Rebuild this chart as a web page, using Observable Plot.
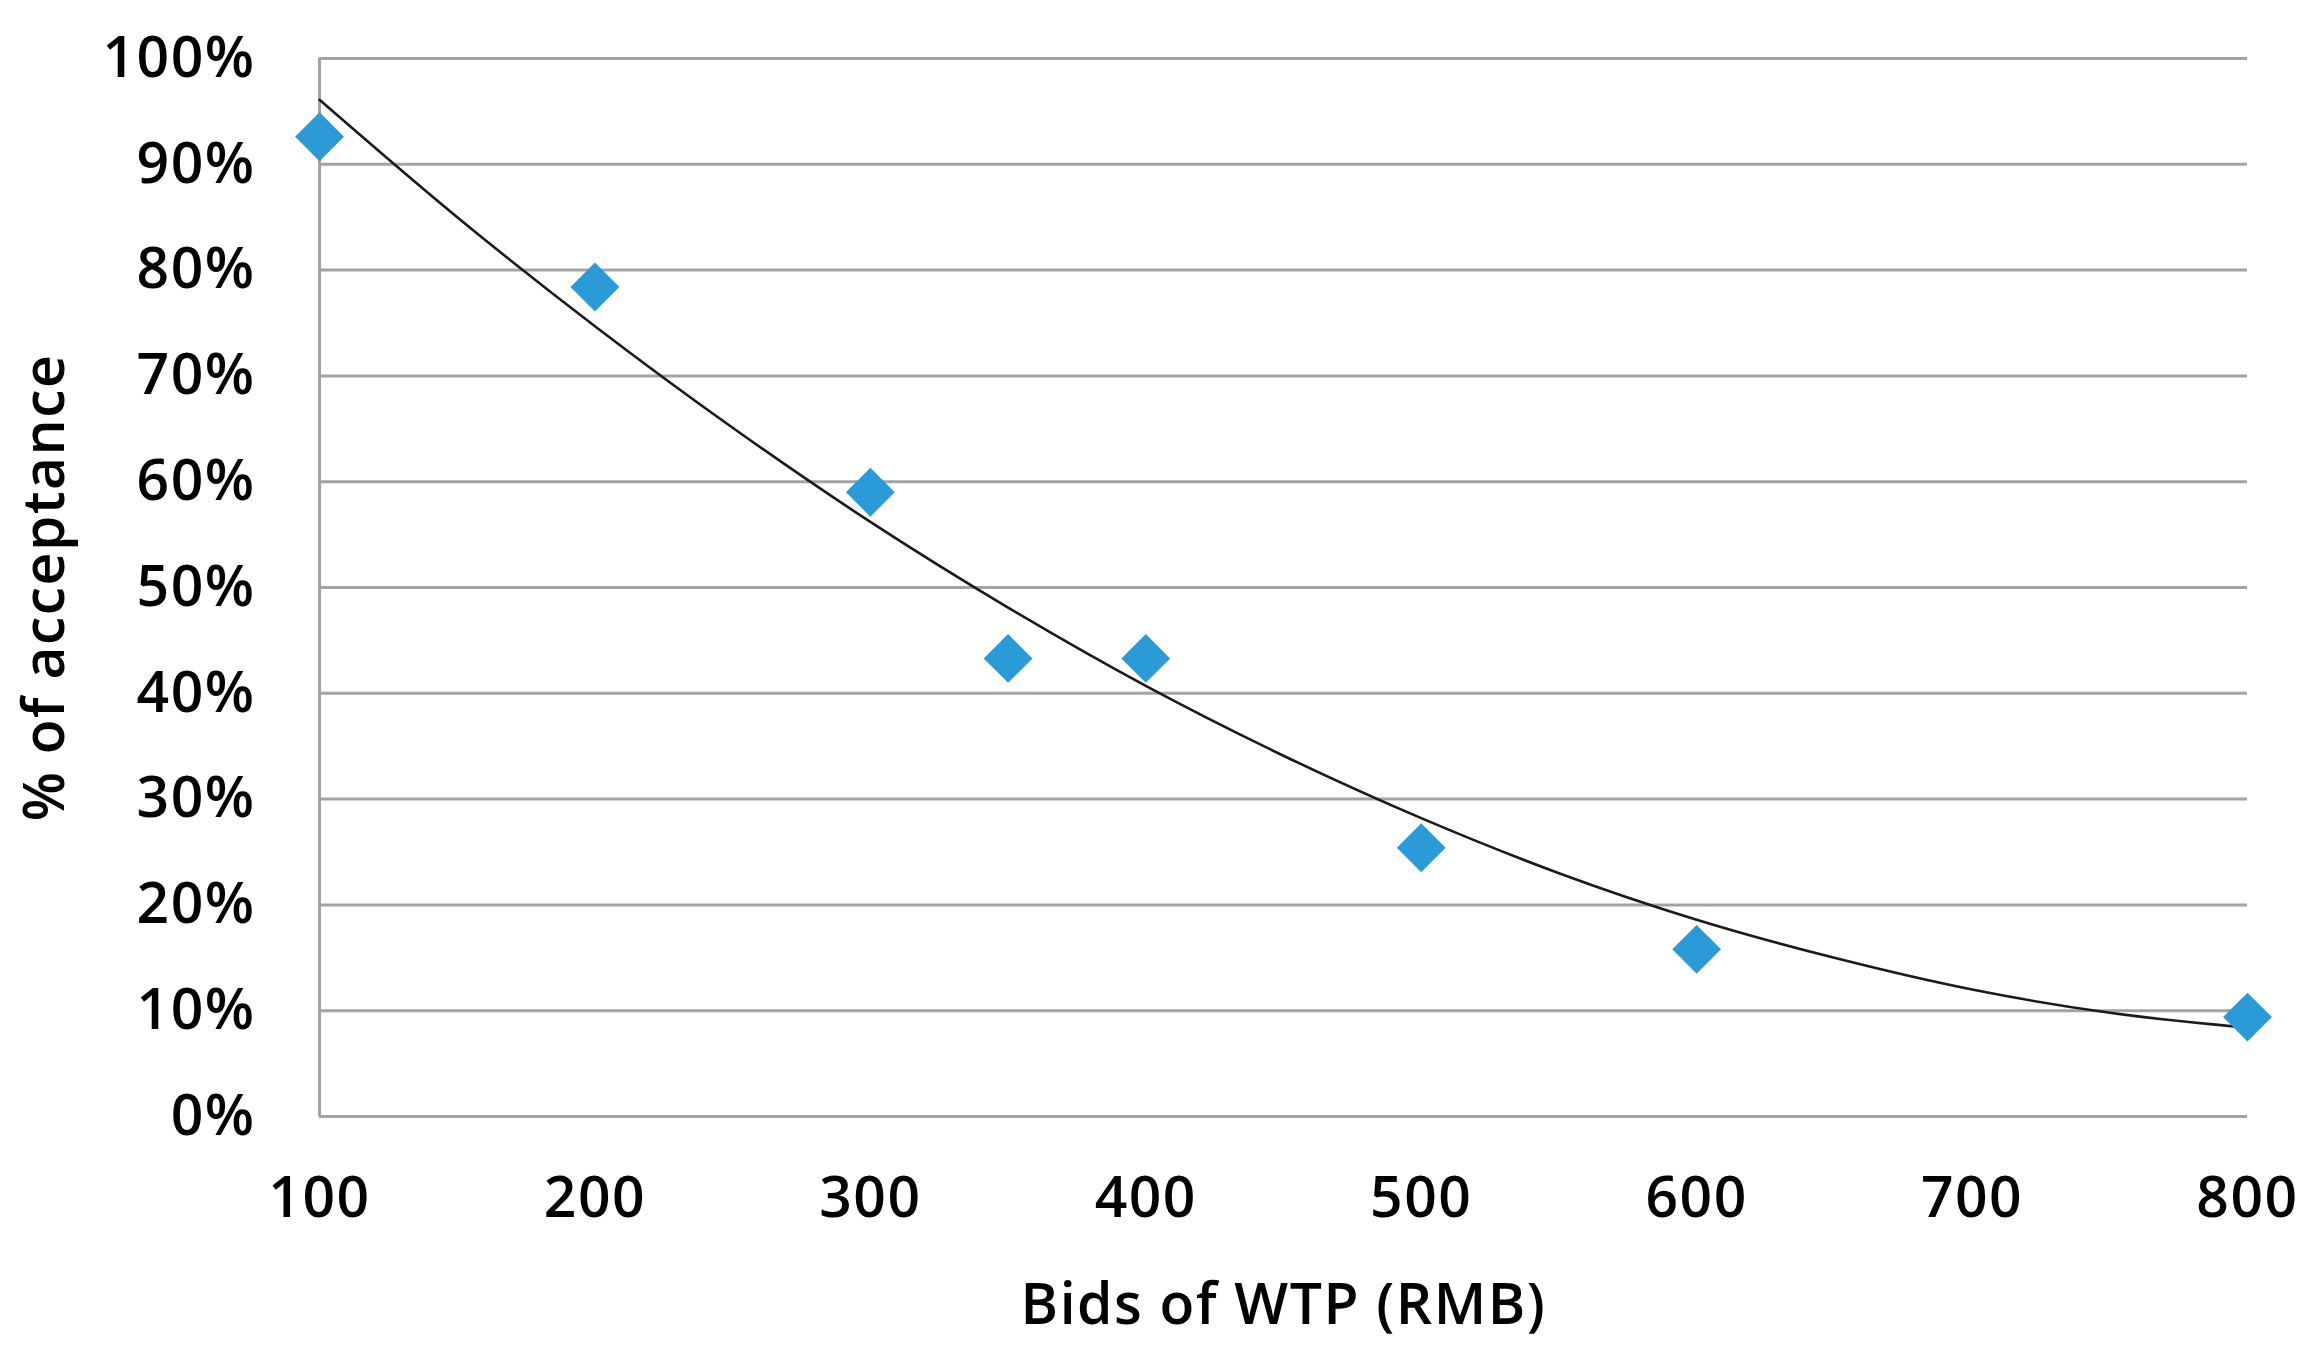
<!DOCTYPE html>
<html>
<head>
<meta charset="utf-8">
<script src="https://cdn.jsdelivr.net/npm/d3@7"></script>
<script src="https://cdn.jsdelivr.net/npm/@observablehq/plot@0.6"></script>
<style>
  html, body { margin: 0; padding: 0; background: #fff; }
  #chart { width: 2316px; height: 1345px; }
  #chart svg text { letter-spacing: 1.5px; }
</style>
</head>
<body>
<div id="chart"></div>
<script>
// Observed acceptance rates at each bid
const bids = [100, 200, 300, 350, 400, 500, 600, 800];
const acceptance = [0.926, 0.784, 0.590, 0.433, 0.433, 0.254, 0.158, 0.094];

// Trend line
const trendBids = [100, 150, 200, 250, 300, 350, 400, 450, 500, 550, 600, 650, 700, 750, 800];
const trendValues = [0.961, 0.850, 0.747, 0.651, 0.562, 0.481, 0.407, 0.341, 0.282, 0.230, 0.186, 0.150, 0.120, 0.098, 0.084];

const xTicks = [100, 200, 300, 400, 500, 600, 700, 800];
const yTicks = [0, 0.1, 0.2, 0.3, 0.4, 0.5, 0.6, 0.7, 0.8, 0.9, 1.0];

const xTitle = "Bids of WTP (RMB)";
const yTitle = "% of acceptance";

const points = bids.map((b, i) => ({bid: b, value: acceptance[i]}));
const trend = trendBids.map((b, i) => ({bid: b, value: trendValues[i]}));

const gridColor = "#a3a3a3";
const font = "'Open Sans', 'DejaVu Sans', sans-serif";
const fs = 57;

const chart = Plot.plot({
  width: 2316,
  height: 1345,
  marginLeft: 319,
  marginRight: 69,
  marginTop: 58,
  marginBottom: 229,
  style: {fontFamily: font, fontSize: fs + "px", fontWeight: 600, color: "#000", background: "#fff", overflow: "visible"},
  x: {domain: [100, 800], ticks: xTicks, tickSize: 0, tickPadding: 60, tickFormat: d3.format("d"), label: null},
  y: {domain: [0, 1], ticks: yTicks, tickSize: 0, tickPadding: 64, tickFormat: d3.format(".0%"), label: null},
  marks: [
    Plot.ruleY(yTicks, {stroke: gridColor, strokeWidth: 3}),
    Plot.ruleX([100], {y1: 0, y2: 1, stroke: gridColor, strokeWidth: 3}),
    Plot.line(trend, {x: "bid", y: "value", stroke: "#1a1a1a", strokeWidth: 2.6, curve: "catmull-rom"}),
    Plot.dot(points, {x: "bid", y: "value", symbol: "diamond2", r: 22, fill: "#2b9bd8", stroke: "none"}),
    Plot.text([xTitle], {frameAnchor: "bottom", dy: 189, lineAnchor: "middle", textAnchor: "middle", fontSize: fs, fontWeight: 600, fill: "#000"}),
    Plot.text([yTitle], {frameAnchor: "left", dx: -274, rotate: -90, lineAnchor: "middle", textAnchor: "middle", fontSize: fs, fontWeight: 600, fill: "#000"})
  ]
});
document.getElementById("chart").appendChild(chart);
</script>
</body>
</html>
